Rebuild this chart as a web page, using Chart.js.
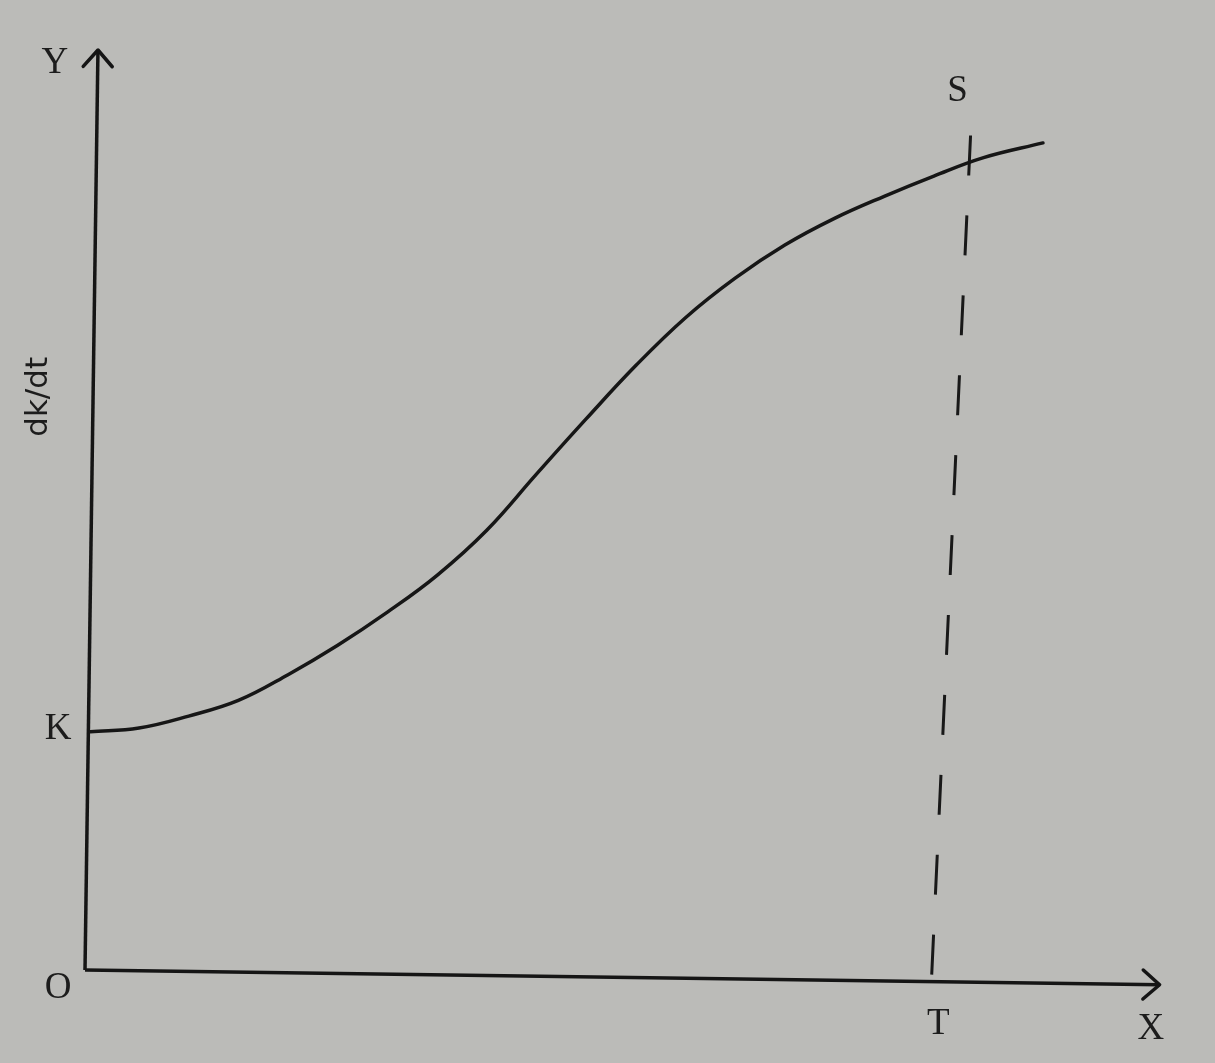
<!DOCTYPE html>
<html>
<head>
<meta charset="utf-8">
<script src="https://cdn.jsdelivr.net/npm/chart.js@4/dist/chart.umd.min.js"></script>
<style>
  html, body { margin: 0; padding: 0; background: #bbbbb8; }
  #wrap { width: 1215px; height: 1063px; }
</style>
</head>
<body>
<div id="wrap"><canvas id="myChart" width="1215" height="1063"></canvas></div>
<script>
// curve dk/dt (axis units 0..100)
var curveX = [0.5, 5.0, 9.6, 14.2, 18.8, 23.4, 28.0, 32.6, 37.2, 41.8, 46.4, 51.0, 55.6, 60.2, 64.8, 69.4, 74.0, 78.6, 83.2, 88.7];
var curveY = [25.9, 26.3, 27.6, 29.3, 32.1, 35.3, 38.9, 42.9, 47.8, 53.9, 59.9, 65.7, 70.9, 75.2, 78.8, 81.7, 84.1, 86.3, 88.3, 89.9];

// axes (slightly skewed like the drawing)
var yAxisX = [0, 1.2];
var yAxisY = [0, 100];
var xAxisX = [0, 99.5];
var xAxisY = [0, -1.6];

// dashed line from T up to S
var dashX = [78.4, 82.0];
var dashY = [-0.5, 90.8];

// letters
var labelText = ['Y', 'K', 'O', 'T', 'X', 'S'];

function pts(xs, ys) {
    var out = [];
    for (var i = 0; i < xs.length; i++) out.push({x: xs[i], y: ys[i]});
    return out;
}

var labelPlugin = {
    id: 'labels',
    afterDatasetsDraw: function(chart) {
        var ctx = chart.ctx;
        var xs = chart.scales.x, ys = chart.scales.y;
        var pos = [[-2.8, 98.6], [-2.5, 26.2], [-2.5, -2.0], [79.0, -5.9], [98.7, -6.4], [80.8, 95.5]];
        ctx.save();
        ctx.fillStyle = '#1c1c1c';
        ctx.font = '37px "Liberation Serif"';
        ctx.textAlign = 'center';
        ctx.textBaseline = 'middle';
        for (var i = 0; i < labelText.length; i++) {
            ctx.fillText(labelText[i], xs.getPixelForValue(pos[i][0]), ys.getPixelForValue(pos[i][1]));
        }
        // y title
        ctx.translate(xs.getPixelForValue(-4.3), ys.getPixelForValue(62.3));
        ctx.rotate(-Math.PI / 2);
        ctx.font = '31px "DejaVu Sans"';
        ctx.fillText('dk/dt', 0, 0);
        ctx.restore();

        // arrow heads
        function arrow(x0, y0, x1, y1) {
            var px0 = xs.getPixelForValue(x0), py0 = ys.getPixelForValue(y0);
            var px1 = xs.getPixelForValue(x1), py1 = ys.getPixelForValue(y1);
            var a = Math.atan2(py1 - py0, px1 - px0);
            var len = 22, spread = 0.72;
            ctx.save();
            ctx.strokeStyle = '#151515';
            ctx.lineWidth = 3.5;
            ctx.lineCap = 'round';
            ctx.lineJoin = 'round';
            ctx.beginPath();
            ctx.moveTo(px1 - len * Math.cos(a - spread), py1 - len * Math.sin(a - spread));
            ctx.lineTo(px1, py1);
            ctx.lineTo(px1 - len * Math.cos(a + spread), py1 - len * Math.sin(a + spread));
            ctx.stroke();
            ctx.restore();
        }
        arrow(yAxisX[0], yAxisY[0], yAxisX[1], yAxisY[1]);
        arrow(xAxisX[0], xAxisY[0], xAxisX[1], xAxisY[1]);
    }
};

var ctx = document.getElementById('myChart').getContext('2d');
var myChart = new Chart(ctx, {
    type: 'scatter',
    data: {
        datasets: [
            {
                label: 'dk/dt',
                data: pts(curveX, curveY),
                showLine: true,
                borderColor: '#161616',
                borderWidth: 3.5,
                pointRadius: 0,
                tension: 0.4,
                borderCapStyle: 'round',
                clip: false
            },
            {
                label: 'y axis',
                data: pts(yAxisX, yAxisY),
                showLine: true,
                borderColor: '#151515',
                borderWidth: 3.5,
                pointRadius: 0,
                clip: false
            },
            {
                label: 'x axis',
                data: pts(xAxisX, xAxisY),
                showLine: true,
                borderColor: '#151515',
                borderWidth: 3.5,
                pointRadius: 0,
                clip: false
            },
            {
                label: 'T-S',
                data: pts(dashX, dashY),
                showLine: true,
                borderColor: '#181818',
                borderWidth: 3,
                borderDash: [40, 40],
                pointRadius: 0,
                clip: false
            }
        ]
    },
    options: {
        responsive: false,
        animation: false,
        layout: { padding: { left: 85, right: 50, top: 50, bottom: 93 } },
        plugins: {
            legend: { display: false },
            tooltip: { enabled: false }
        },
        scales: {
            x: { type: 'linear', min: 0, max: 100, display: false },
            y: { type: 'linear', min: 0, max: 100, display: false }
        }
    },
    plugins: [labelPlugin]
});
</script>
</body>
</html>
